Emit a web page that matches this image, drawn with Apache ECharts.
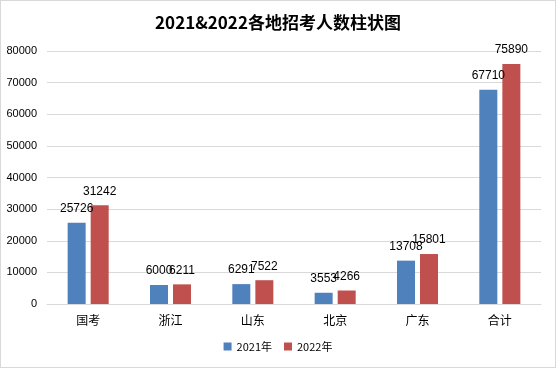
<!DOCTYPE html>
<html><head><meta charset="utf-8">
<script src="https://cdn.jsdelivr.net/npm/echarts@6/dist/echarts.min.js"></script>
<style>html,body{margin:0;padding:0;background:#fff}#c{width:556px;height:368px;box-sizing:border-box;border:1px solid #d9d9d9}</style>
</head><body><div id="c"></div>
<script>
const categories = ['国考','浙江','山东','北京','广东','合计'];
const values2021 = [25726, 6000, 6291, 3553, 13708, 67710];
const values2022 = [31242, 6211, 7522, 4266, 15801, 75890];
const seriesNames = ['2021年','2022年'];
const chart = echarts.init(document.getElementById('c'));
const lbl = {show:true, position:'top', distance:8, color:'#000', fontSize:12, fontFamily:'Liberation Sans, Noto Sans CJK SC'};
chart.setOption({
  animation:false,
  title:{text:'2021&2022各地招考人数柱状图', left:'center', top:8,
    textStyle:{fontSize:17, fontWeight:'bold', color:'#000', fontFamily:'Noto Sans CJK SC'}},
  legend:{bottom:10, itemWidth:8, itemHeight:8, itemGap:12, icon:'rect',
    textStyle:{fontSize:11, color:'#000', fontFamily:'Noto Sans CJK SC'}},
  grid:{left:46, right:14, top:50, bottom:63},
  xAxis:{type:'category', data:categories,
    axisLine:{lineStyle:{color:'#d9d9d9'}}, axisTick:{show:false},
    axisLabel:{color:'#000', fontSize:12, margin:10, fontFamily:'Noto Sans CJK SC'}},
  yAxis:{type:'value', min:0, max:80000, interval:10000,
    axisLabel:{color:'#000', fontSize:11, margin:10, fontFamily:'Liberation Sans', formatter:v=>String(v)},
    splitLine:{lineStyle:{color:'#d9d9d9'}}},
  series:[
    {name:seriesNames[0], type:'bar', data:values2021, barWidth:18, barGap:'28%', itemStyle:{color:'#4f81bd'}, label:lbl},
    {name:seriesNames[1], type:'bar', data:values2022, barWidth:18, itemStyle:{color:'#c0504d'}, label:lbl}
  ]
});
</script></body></html>
